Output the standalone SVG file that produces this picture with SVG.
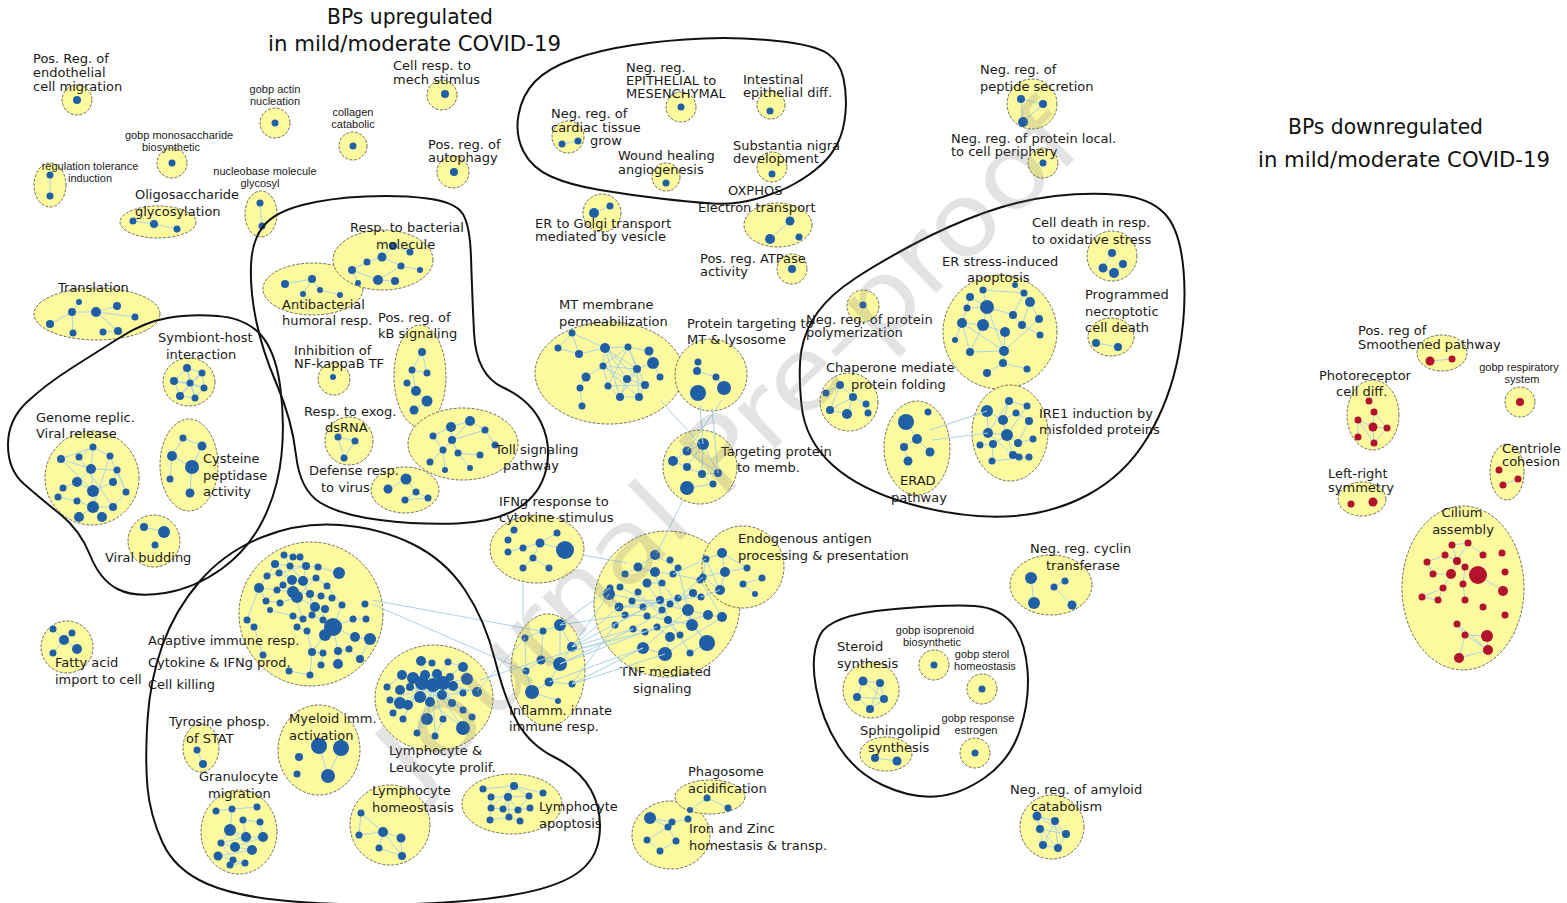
<svg xmlns="http://www.w3.org/2000/svg" width="1567" height="903" viewBox="0 0 1567 903">
<style>
.c{fill:#fcf99e;stroke:#4a4a3a;stroke-width:.8;stroke-dasharray:3 1.5}
.n{fill:#1f5fa6}
.rd{fill:#b3122c}
.e{fill:none;stroke:#a9d3e6;stroke-width:1}
.h{fill:none;stroke:#111;stroke-width:2}
.t{font-family:"DejaVu Sans",Verdana,sans-serif;font-size:13px;fill:#1a1a1a}
.s{font-family:"Liberation Sans",Arial,sans-serif;font-size:11px;fill:#1a1a1a;text-anchor:middle}
.ti{font-family:"DejaVu Sans",Verdana,sans-serif;font-size:20.5px;fill:#111}
.wm{font-family:"DejaVu Sans",sans-serif;font-size:100px;fill:#777;opacity:.2}
</style>
<rect width="1567" height="903" fill="#fff"/>
<g id="titles">
<text class="ti" x="410" y="24" text-anchor="middle" textLength="166" lengthAdjust="spacingAndGlyphs">BPs upregulated</text>
<text class="ti" x="268" y="51" textLength="293" lengthAdjust="spacingAndGlyphs">in mild/moderate COVID-19</text>
<text class="ti" x="1288" y="134" textLength="195" lengthAdjust="spacingAndGlyphs">BPs downregulated</text>
<text class="ti" x="1258" y="167" textLength="292" lengthAdjust="spacingAndGlyphs">in mild/moderate COVID-19</text>
</g>
<g id="n-endothelial"><circle class="c" cx="77" cy="100" r="15"/><circle class="n" cx="77" cy="100" r="4"/><text class="t" x="33" y="63">Pos. Reg. of</text><text class="t" x="33" y="77">endothelial</text><text class="t" x="33" y="91">cell migration</text></g>
<g id="n-actin"><circle class="c" cx="275" cy="123" r="15"/><circle class="n" cx="275" cy="123" r="3.5"/><text class="s" x="275" y="93">gobp actin</text><text class="s" x="275" y="105">nucleation</text></g>
<g id="n-collagen"><circle class="c" cx="353" cy="146" r="14"/><circle class="n" cx="353" cy="146" r="3.5"/><text class="s" x="353" y="116">collagen</text><text class="s" x="353" y="128">catabolic</text></g>
<g id="n-mech"><circle class="c" cx="442" cy="95" r="15"/><circle class="n" cx="445" cy="94" r="4"/><text class="t" x="393" y="70">Cell resp. to</text><text class="t" x="393" y="84">mech stimlus</text></g>
<g id="n-monosacch"><circle class="c" cx="172" cy="163" r="15"/><circle class="n" cx="172" cy="163" r="3.5"/><text class="s" x="179" y="139">gobp monosaccharide</text><text class="s" x="171" y="151">biosynthetic</text></g>
<g id="n-tolerance"><ellipse class="c" cx="50" cy="185" rx="16" ry="22"/><path class="e" d="M50,175L50,196"/><circle class="n" cx="50" cy="175" r="3.5"/><circle class="n" cx="50" cy="196" r="3.5"/><text class="s" x="90" y="170">regulation tolerance</text><text class="s" x="90" y="182">induction</text></g>
<g id="n-nucleobase"><ellipse class="c" cx="261" cy="214" rx="16" ry="23"/><path class="e" d="M260,203L262,226"/><circle class="n" cx="260" cy="203" r="3.5"/><circle class="n" cx="262" cy="226" r="3.5"/><text class="s" x="265" y="175">nucleobase molecule</text><text class="s" x="260" y="187">glycosyl</text></g>
<g id="n-oligo"><ellipse class="c" cx="158" cy="222" rx="38" ry="16"/><path class="e" d="M133,221L154,224L177,229"/><circle class="n" cx="133" cy="221" r="3.5"/><circle class="n" cx="154" cy="224" r="4"/><circle class="n" cx="177" cy="229" r="3.5"/><text class="t" x="135" y="199">Oligosaccharide</text><text class="t" x="135" y="216">glycosylation</text></g>
<g id="n-autophagy"><circle class="c" cx="453" cy="172" r="16"/><circle class="n" cx="454" cy="172" r="4"/><text class="t" x="428" y="149">Pos.  reg. of</text><text class="t" x="428" y="162">autophagy</text></g>
<g id="n-epith"><circle class="c" cx="681" cy="107" r="15"/><circle class="n" cx="681" cy="107" r="3.5"/><text class="t" x="626" y="72">Neg. reg.</text><text class="t" x="626" y="85">EPITHELIAL to</text><text class="t" x="626" y="98">MESENCHYMAL</text></g>
<g id="n-intestinal"><circle class="c" cx="771" cy="105" r="14"/><circle class="n" cx="770" cy="111" r="3.5"/><text class="t" x="743" y="84">Intestinal</text><text class="t" x="743" y="97">epithelial  diff.</text></g>
<g id="n-cardiac"><circle class="c" cx="568" cy="137" r="16"/><path class="e" d="M562,144L578,141"/><circle class="n" cx="562" cy="144" r="3.5"/><circle class="n" cx="578" cy="141" r="3.5"/><text class="t" x="551" y="118">Neg. reg. of</text><text class="t" x="551" y="132">cardiac tissue</text><text class="t" x="590" y="145">grow</text></g>
<g id="n-wound"><circle class="c" cx="666" cy="177" r="14"/><circle class="n" cx="666" cy="183" r="3.5"/><text class="t" x="618" y="160">Wound healing</text><text class="t" x="618" y="174">angiogenesis</text></g>
<g id="n-substantia"><circle class="c" cx="772" cy="167" r="15"/><circle class="n" cx="772" cy="174" r="3.5"/><text class="t" x="733" y="150">Substantia nigra</text><text class="t" x="733" y="163">development</text></g>
<g id="n-oxphos"><ellipse class="c" cx="778" cy="225" rx="34" ry="22"/><path class="e" d="M790,221L770,239"/><circle class="n" cx="790" cy="221" r="4.5"/><circle class="n" cx="770" cy="239" r="5"/><circle class="n" cx="799" cy="237" r="3.5"/><text class="t" x="728" y="195">OXPHOS</text><text class="t" x="698" y="212">Electron transport</text></g>
<g id="n-ergolgi"><circle class="c" cx="602" cy="213" r="19"/><path class="e" d="M594,213L610,206"/><circle class="n" cx="594" cy="213" r="5"/><circle class="n" cx="610" cy="206" r="3.5"/><text class="t" x="535" y="228">ER to Golgi transport</text><text class="t" x="535" y="241">mediated by vesicle</text></g>
<g id="n-atpase"><circle class="c" cx="792" cy="269" r="15"/><circle class="n" cx="792" cy="269" r="4"/><text class="t" x="700" y="263">Pos. reg. ATPase</text><text class="t" x="700" y="276">activity</text></g>
<g id="n-peptide"><circle class="c" cx="1032" cy="104" r="25"/><path class="e" d="M1021,99L1043,104L1023,122Z"/><circle class="n" cx="1021" cy="99" r="4"/><circle class="n" cx="1043" cy="104" r="4"/><circle class="n" cx="1023" cy="122" r="5"/><text class="t" x="980" y="74">Neg. reg. of</text><text class="t" x="980" y="91">peptide secretion</text></g>
<g id="n-protlocal"><circle class="c" cx="1043" cy="163" r="15"/><circle class="n" cx="1043" cy="163" r="3.5"/><text class="t" x="951" y="143">Neg. reg. of protein local.</text><text class="t" x="951" y="156">to cell periphery</text></g>
<g id="n-oxidative"><circle class="c" cx="1112" cy="256" r="25"/><path class="e" d="M1112,253L1103,268L1114,273L1123,264"/><circle class="n" cx="1112" cy="253" r="4"/><circle class="n" cx="1103" cy="268" r="4.5"/><circle class="n" cx="1123" cy="264" r="4"/><circle class="n" cx="1114" cy="273" r="5"/><text class="t" x="1032" y="227">Cell death in resp.</text><text class="t" x="1032" y="244">to oxidative stress</text></g>
<g id="n-erstress"><circle class="c" cx="1000" cy="332" r="57"/><path class="e" d="M970,297L987,307M983,290L987,307M987,307L967,308M987,307L983,325M962,323L983,325M962,323L970,352M983,325L1005,332M987,307L1013,315M1013,315L1024,293M1024,293L1030,302M1030,302L1039,319M1013,315L1022,325M1022,325L1040,335M1005,332L1004,351M1004,351L1003,363M1003,363L987,373M1003,363L1027,369M970,352L1004,351M983,290L1024,293M962,323L1004,351M987,307L1004,351M1030,302L1022,325M1039,319L1004,351M970,297L962,323M983,325L970,352M955,340L962,323M1015,285L1024,293"/><circle class="n" cx="970" cy="297" r="4"/><circle class="n" cx="983" cy="290" r="3.5"/><circle class="n" cx="987" cy="307" r="7"/><circle class="n" cx="967" cy="308" r="3.5"/><circle class="n" cx="962" cy="323" r="5"/><circle class="n" cx="983" cy="325" r="6"/><circle class="n" cx="970" cy="352" r="4"/><circle class="n" cx="1005" cy="332" r="5"/><circle class="n" cx="1013" cy="315" r="4"/><circle class="n" cx="1024" cy="293" r="3.5"/><circle class="n" cx="1030" cy="302" r="5"/><circle class="n" cx="1039" cy="319" r="4"/><circle class="n" cx="1022" cy="325" r="4"/><circle class="n" cx="1040" cy="335" r="3.5"/><circle class="n" cx="1004" cy="351" r="5"/><circle class="n" cx="1003" cy="363" r="4"/><circle class="n" cx="987" cy="373" r="4"/><circle class="n" cx="1027" cy="369" r="3.5"/><circle class="n" cx="955" cy="340" r="3"/><circle class="n" cx="1015" cy="285" r="3"/><text class="t" x="942" y="266">ER stress-induced</text><text class="t" x="967" y="282">apoptosis</text></g>
<g id="n-necroptotic"><ellipse class="c" cx="1111" cy="337" rx="23" ry="19"/><path class="e" d="M1096,343L1118,347"/><circle class="n" cx="1096" cy="343" r="4"/><circle class="n" cx="1118" cy="347" r="4"/><text class="t" x="1085" y="299">Programmed</text><text class="t" x="1085" y="316">necroptotic</text><text class="t" x="1085" y="332">cell death</text></g>
<g id="n-polymer"><circle class="c" cx="863" cy="306" r="16"/><circle class="n" cx="863" cy="305" r="3.5"/><text class="t" x="806" y="324">Neg. reg. of protein</text><text class="t" x="806" y="337">polymerization</text></g>
<g id="n-chaperone"><circle class="c" cx="849" cy="402" r="29"/><path class="e" d="M840,385L853,397M853,397L866,404M853,397L847,414M830,410L847,414M830,410L853,397M866,404L868,413M840,385L830,410M826,393L840,385"/><circle class="n" cx="840" cy="385" r="4"/><circle class="n" cx="826" cy="393" r="3.5"/><circle class="n" cx="853" cy="397" r="4"/><circle class="n" cx="866" cy="404" r="3.5"/><circle class="n" cx="830" cy="410" r="4"/><circle class="n" cx="847" cy="414" r="5"/><circle class="n" cx="868" cy="413" r="3.5"/><text class="t" x="826" y="372">Chaperone mediate</text><text class="t" x="851" y="389">protein folding</text></g>
<g id="n-erad"><ellipse class="c" cx="917" cy="448" rx="33" ry="47"/><path class="e" d="M906,422L917,439L930,452M917,439L904,447L908,461"/><circle class="n" cx="906" cy="422" r="8"/><circle class="n" cx="928" cy="412" r="3.5"/><circle class="n" cx="917" cy="439" r="5"/><circle class="n" cx="904" cy="447" r="4"/><circle class="n" cx="930" cy="452" r="4.5"/><circle class="n" cx="908" cy="461" r="4.5"/><text class="t" x="900" y="485">ERAD</text><text class="t" x="891" y="502">pathway</text></g>
<g id="n-ire1"><ellipse class="c" cx="1010" cy="433" rx="38" ry="48"/><path class="e" d="M1009,401L1027,406M987,411L1003,420M1003,420L1016,413M1016,413L1029,421M1009,401L1003,420M987,411L988,433M1003,420L1007,435M988,433L1007,435M1007,435L1018,443M1018,443L1033,439M993,444L1007,435M980,445L993,444M993,444L992,461M1013,455L1019,457M1019,457L1029,457M1007,435L1013,455M1029,421L1018,443M988,433L1013,455M1009,401L988,433M992,461L1029,457M1027,406L1007,435"/><circle class="n" cx="1009" cy="401" r="4"/><circle class="n" cx="1027" cy="406" r="3.5"/><circle class="n" cx="987" cy="411" r="6"/><circle class="n" cx="1003" cy="420" r="5"/><circle class="n" cx="1016" cy="413" r="3.5"/><circle class="n" cx="1029" cy="421" r="4"/><circle class="n" cx="988" cy="433" r="5"/><circle class="n" cx="1007" cy="435" r="6"/><circle class="n" cx="993" cy="444" r="4"/><circle class="n" cx="1018" cy="443" r="4"/><circle class="n" cx="1033" cy="439" r="3.5"/><circle class="n" cx="980" cy="445" r="3.5"/><circle class="n" cx="1013" cy="455" r="4"/><circle class="n" cx="992" cy="461" r="3.5"/><circle class="n" cx="1019" cy="457" r="3.5"/><circle class="n" cx="1029" cy="457" r="3.5"/><text class="t" x="1039" y="418">IRE1 induction by</text><text class="t" x="1039" y="434">misfolded proteins</text></g>
<g id="n-translation"><ellipse class="c" cx="97" cy="314" rx="63" ry="26"/><path class="e" d="M72,312L96,312L118,331M72,312L73,333M50,324L72,312M79,302L72,312M96,312L117,306M103,332L118,331M96,312L135,317"/><circle class="n" cx="79" cy="302" r="3"/><circle class="n" cx="72" cy="312" r="4"/><circle class="n" cx="96" cy="312" r="5"/><circle class="n" cx="117" cy="306" r="4"/><circle class="n" cx="135" cy="317" r="3.5"/><circle class="n" cx="50" cy="324" r="4"/><circle class="n" cx="73" cy="333" r="3.5"/><circle class="n" cx="103" cy="332" r="3.5"/><circle class="n" cx="118" cy="331" r="4"/><text class="t" x="58" y="292">Translation</text></g>
<g id="n-symbiont"><ellipse class="c" cx="189" cy="382" rx="26" ry="24"/><path class="e" d="M187,368L202,373L204,388L195,398L180,396L174,381L187,368M187,368L190,383L204,388M174,381L190,383L195,398M202,373L190,383L180,396M187,368L195,398M174,381L204,388M202,373L180,396"/><circle class="n" cx="187" cy="368" r="4"/><circle class="n" cx="202" cy="373" r="3.5"/><circle class="n" cx="174" cy="381" r="4"/><circle class="n" cx="190" cy="383" r="3.5"/><circle class="n" cx="204" cy="388" r="3.5"/><circle class="n" cx="180" cy="396" r="4"/><circle class="n" cx="195" cy="398" r="3.5"/><text class="t" x="158" y="342">Symbiont-host</text><text class="t" x="166" y="359">interaction</text></g>
<g id="n-genome"><circle class="c" cx="92" cy="478" r="47"/><path class="e" d="M61,459L93,447M79,457L93,447M93,447L110,456M93,447L91,469M61,459L91,469M91,469L117,470M91,469L77,482M91,469L93,491M77,482L93,491M93,491L113,482M113,482L117,470M93,491L93,507M63,488L77,482M58,497L77,501M77,501L93,507M93,507L113,507M93,507L79,517M93,507L102,517M113,507L126,492M117,470L126,492M110,456L126,492M79,457L113,507M61,459L93,491M110,456L93,507"/><circle class="n" cx="61" cy="459" r="4"/><circle class="n" cx="79" cy="457" r="3.5"/><circle class="n" cx="93" cy="447" r="3.5"/><circle class="n" cx="110" cy="456" r="3.5"/><circle class="n" cx="91" cy="469" r="5"/><circle class="n" cx="117" cy="470" r="3.5"/><circle class="n" cx="77" cy="482" r="5"/><circle class="n" cx="63" cy="488" r="3.5"/><circle class="n" cx="93" cy="491" r="6"/><circle class="n" cx="113" cy="482" r="4"/><circle class="n" cx="126" cy="492" r="3.5"/><circle class="n" cx="58" cy="497" r="3.5"/><circle class="n" cx="77" cy="501" r="3.5"/><circle class="n" cx="93" cy="507" r="6"/><circle class="n" cx="113" cy="507" r="4"/><circle class="n" cx="79" cy="517" r="5"/><circle class="n" cx="102" cy="517" r="5"/><text class="t" x="36" y="422">Genome replic.</text><text class="t" x="36" y="438">Viral release</text></g>
<g id="n-cysteine"><ellipse class="c" cx="189" cy="465" rx="29" ry="46"/><path class="e" d="M183,438L172,456L192,467L202,446M172,456L170,479M192,467L190,493M183,438L202,446"/><circle class="n" cx="183" cy="438" r="3.5"/><circle class="n" cx="202" cy="446" r="4.5"/><circle class="n" cx="172" cy="456" r="5"/><circle class="n" cx="192" cy="467" r="7"/><circle class="n" cx="170" cy="479" r="3.5"/><circle class="n" cx="190" cy="493" r="4.5"/><text class="t" x="203" y="463">Cysteine</text><text class="t" x="203" y="480">peptidase</text><text class="t" x="203" y="496">activity</text></g>
<g id="n-budding"><circle class="c" cx="154" cy="541" r="26"/><path class="e" d="M144,527L164,532"/><circle class="n" cx="144" cy="527" r="4"/><circle class="n" cx="164" cy="532" r="6"/><circle class="n" cx="155" cy="545" r="3.5"/><text class="t" x="105" y="562">Viral budding</text></g>
<g id="n-fatty"><circle class="c" cx="67" cy="647" r="26"/><path class="e" d="M53,629L64,640L72,633M64,640L77,649M64,640L53,653"/><circle class="n" cx="53" cy="629" r="3.5"/><circle class="n" cx="72" cy="633" r="3.5"/><circle class="n" cx="64" cy="640" r="5"/><circle class="n" cx="77" cy="649" r="5"/><circle class="n" cx="53" cy="653" r="3.5"/><text class="t" x="55" y="667">Fatty acid</text><text class="t" x="55" y="684">import to cell</text></g>
<g id="n-antibacterial"><ellipse class="c" cx="313" cy="289" rx="50" ry="26"/><path class="e" d="M285,284L312,279L303,294M312,279L320,290L340,295"/><circle class="n" cx="285" cy="284" r="4"/><circle class="n" cx="312" cy="279" r="4"/><circle class="n" cx="303" cy="294" r="3"/><circle class="n" cx="320" cy="290" r="3"/><circle class="n" cx="340" cy="295" r="3"/><text class="t" x="282" y="309">Antibacterial</text><text class="t" x="282" y="325">humoral resp.</text></g>
<g id="n-bacterial"><ellipse class="c" cx="383" cy="260" rx="50" ry="30"/><path class="e" d="M352,270L367,262L382,257L393,246L410,252M382,257L401,266L378,280L395,281M401,266L420,270M352,270L378,280M358,283L352,270"/><circle class="n" cx="352" cy="270" r="4"/><circle class="n" cx="367" cy="262" r="3.5"/><circle class="n" cx="382" cy="257" r="4.5"/><circle class="n" cx="393" cy="246" r="4"/><circle class="n" cx="410" cy="252" r="3.5"/><circle class="n" cx="401" cy="266" r="3.5"/><circle class="n" cx="378" cy="280" r="5"/><circle class="n" cx="420" cy="270" r="3"/><circle class="n" cx="358" cy="283" r="3"/><circle class="n" cx="395" cy="281" r="4"/><text class="t" x="350" y="232">Resp. to bacterial</text><text class="t" x="376" y="249">molecule</text></g>
<g id="n-kb"><ellipse class="c" cx="420" cy="376" rx="26" ry="51"/><path class="e" d="M422,352L412,370L427,373L422,352M412,370L416,391L427,401L414,410M407,383L416,391"/><circle class="n" cx="422" cy="352" r="4"/><circle class="n" cx="412" cy="370" r="3.5"/><circle class="n" cx="427" cy="373" r="3.5"/><circle class="n" cx="407" cy="383" r="3.5"/><circle class="n" cx="416" cy="391" r="5"/><circle class="n" cx="427" cy="401" r="5.5"/><circle class="n" cx="414" cy="410" r="4.5"/><text class="t" x="378" y="322">Pos. reg. of</text><text class="t" x="378" y="338">kB signaling</text></g>
<g id="n-nfkb"><circle class="c" cx="334" cy="379" r="16"/><circle class="n" cx="333" cy="377" r="3"/><text class="t" x="294" y="355">Inhibition of</text><text class="t" x="294" y="368">NF-kappaB TF</text></g>
<g id="n-dsrna"><circle class="c" cx="349" cy="441" r="24"/><path class="e" d="M338,437L355,441L344,458L338,437"/><circle class="n" cx="338" cy="437" r="3.5"/><circle class="n" cx="355" cy="441" r="3.5"/><circle class="n" cx="344" cy="458" r="3.5"/><text class="t" x="304" y="416">Resp. to exog.</text><text class="t" x="325" y="432">dsRNA</text></g>
<g id="n-toll"><ellipse class="c" cx="463" cy="444" rx="55" ry="36"/><path class="e" d="M451,427L470,421M451,427L433,436M451,427L452,440M452,440L443,450M452,440L458,453M433,436L443,450M443,450L430,462M470,421L485,430M485,430L495,445M458,453L480,455M452,440L485,430M470,421L452,440M458,453L470,468M443,450L445,470"/><circle class="n" cx="451" cy="427" r="5"/><circle class="n" cx="470" cy="421" r="5"/><circle class="n" cx="433" cy="436" r="3.5"/><circle class="n" cx="452" cy="440" r="4"/><circle class="n" cx="443" cy="450" r="3.5"/><circle class="n" cx="458" cy="453" r="3.5"/><circle class="n" cx="430" cy="462" r="3.5"/><circle class="n" cx="485" cy="430" r="3.5"/><circle class="n" cx="495" cy="445" r="3.5"/><circle class="n" cx="480" cy="455" r="3.5"/><circle class="n" cx="470" cy="468" r="3"/><circle class="n" cx="445" cy="470" r="3"/><text class="t" x="495" y="454">Toll signaling</text><text class="t" x="503" y="470">pathway</text></g>
<g id="n-defense"><ellipse class="c" cx="405" cy="490" rx="34" ry="23"/><path class="e" d="M406,479L388,489M406,479L416,492L428,498L405,500L416,492"/><circle class="n" cx="406" cy="479" r="5.5"/><circle class="n" cx="388" cy="489" r="4.5"/><circle class="n" cx="416" cy="492" r="3.5"/><circle class="n" cx="428" cy="498" r="3.5"/><circle class="n" cx="405" cy="500" r="3.5"/><text class="t" x="309" y="475">Defense resp.</text><text class="t" x="321" y="492">to virus</text></g>
<g id="n-mtmemb"><ellipse class="c" cx="609" cy="373" rx="74" ry="51"/><path class="e" d="M572,333L558,348M572,333L579,354M572,333L605,348M558,348L579,354M579,354L605,348M605,348L628,347M628,347L649,351M605,348L603,366M605,348L637,369M605,348L627,379M605,348L620,397M605,348L645,385M628,347L637,369M628,347L603,366M628,347L645,385M628,347L608,386M649,351L653,363M653,363L660,377M653,363L637,369M637,369L603,366M637,369L627,379M637,369L639,397M637,369L620,397M603,366L627,379M603,366L608,386M603,366L639,397M627,379L645,385M627,379L620,397M645,385L639,397M608,386L620,397M608,386L645,385M586,377L580,388M580,388L582,406M586,377L603,366M620,397L639,397"/><circle class="n" cx="572" cy="333" r="3.5"/><circle class="n" cx="558" cy="348" r="3.5"/><circle class="n" cx="579" cy="354" r="4"/><circle class="n" cx="605" cy="348" r="5"/><circle class="n" cx="628" cy="347" r="3.5"/><circle class="n" cx="649" cy="351" r="4.5"/><circle class="n" cx="653" cy="363" r="6"/><circle class="n" cx="660" cy="377" r="3.5"/><circle class="n" cx="637" cy="369" r="4"/><circle class="n" cx="603" cy="366" r="3.5"/><circle class="n" cx="627" cy="379" r="4"/><circle class="n" cx="645" cy="385" r="4"/><circle class="n" cx="586" cy="377" r="4.5"/><circle class="n" cx="580" cy="388" r="3.5"/><circle class="n" cx="608" cy="386" r="3.5"/><circle class="n" cx="620" cy="397" r="4"/><circle class="n" cx="639" cy="397" r="4"/><circle class="n" cx="582" cy="406" r="3.5"/><text class="t" x="559" y="309">MT membrane</text><text class="t" x="559" y="326">permeabilization</text></g>
<g id="n-prottarget"><circle class="c" cx="711" cy="375" r="36"/><path class="e" d="M698,362L697,371L716,377L724,388"/><circle class="n" cx="698" cy="362" r="3.5"/><circle class="n" cx="697" cy="371" r="4"/><circle class="n" cx="716" cy="377" r="3.5"/><circle class="n" cx="698" cy="393" r="8"/><circle class="n" cx="724" cy="388" r="7"/><text class="t" x="687" y="328">Protein targeting to</text><text class="t" x="687" y="344">MT &amp; lysosome</text></g>
<g id="n-targmemb"><circle class="c" cx="700" cy="467" r="37"/><path class="e" d="M703,444L687,451M703,444L687,467M703,444L702,474M703,444L718,473M687,451L673,461M687,467L702,474M702,474L718,473M702,474L713,484M687,451L718,473M673,461L687,467M713,484L687,488"/><circle class="n" cx="703" cy="444" r="6"/><circle class="n" cx="687" cy="451" r="4.5"/><circle class="n" cx="673" cy="461" r="5"/><circle class="n" cx="687" cy="467" r="4"/><circle class="n" cx="702" cy="474" r="4"/><circle class="n" cx="718" cy="473" r="4"/><circle class="n" cx="713" cy="484" r="3.5"/><circle class="n" cx="687" cy="488" r="7"/><text class="t" x="721" y="456">Targeting protein</text><text class="t" x="737" y="472">to memb.</text></g>
<g id="n-ifng"><ellipse class="c" cx="537" cy="549" rx="47" ry="34"/><path class="e" d="M514,530L508,540M557,533L540,543L523,548L508,552M540,543L533,558L523,568M540,543L565,550M533,558L549,568"/><circle class="n" cx="514" cy="530" r="3.5"/><circle class="n" cx="508" cy="540" r="3.5"/><circle class="n" cx="557" cy="533" r="3.5"/><circle class="n" cx="540" cy="543" r="4.5"/><circle class="n" cx="523" cy="548" r="3.5"/><circle class="n" cx="508" cy="552" r="3.5"/><circle class="n" cx="565" cy="550" r="9"/><circle class="n" cx="533" cy="558" r="3.5"/><circle class="n" cx="523" cy="568" r="3.5"/><circle class="n" cx="549" cy="568" r="3.5"/><text class="t" x="499" y="506">IFNg response to</text><text class="t" x="499" y="522">cytokine stimulus</text></g>
<g id="n-tnf"><circle class="c" cx="667" cy="604" r="73"/><path class="e" d="M655,555L638,567M655,555L678,568M638,567L625,574M638,567L655,572M655,572L673,574M647,583L662,583M610,588L609,594M609,594L619,607M619,607L643,607M632,601L660,600M660,600L678,598M678,598L693,593M693,593L701,597M688,610L708,615M708,615L722,617M688,610L692,625M692,625L707,643M707,643L690,653M668,620L692,625M657,627L670,637M670,637L665,654M643,648L665,654M633,629L645,632M625,615L647,616M647,616L668,620M620,587L662,610M609,594L688,610M619,607L701,597M633,629L693,593M645,632L708,615M643,648L688,610M665,654L722,617M647,583L690,653M662,583L707,643M673,574L700,580M700,580L722,617M678,568L692,625M655,572L668,620M638,592L680,635M615,625L660,600"/><circle class="n" cx="655" cy="555" r="5"/><circle class="n" cx="638" cy="567" r="4.5"/><circle class="n" cx="670" cy="560" r="3.5"/><circle class="n" cx="678" cy="568" r="3.5"/><circle class="n" cx="625" cy="574" r="3.5"/><circle class="n" cx="655" cy="572" r="5"/><circle class="n" cx="673" cy="574" r="3.5"/><circle class="n" cx="647" cy="583" r="4.5"/><circle class="n" cx="610" cy="588" r="3.5"/><circle class="n" cx="620" cy="587" r="3.5"/><circle class="n" cx="638" cy="592" r="3.5"/><circle class="n" cx="662" cy="583" r="3.5"/><circle class="n" cx="609" cy="594" r="6"/><circle class="n" cx="619" cy="607" r="4.5"/><circle class="n" cx="632" cy="601" r="3.5"/><circle class="n" cx="643" cy="607" r="3.5"/><circle class="n" cx="660" cy="600" r="4"/><circle class="n" cx="670" cy="604" r="3.5"/><circle class="n" cx="678" cy="598" r="3.5"/><circle class="n" cx="693" cy="593" r="4"/><circle class="n" cx="701" cy="597" r="3.5"/><circle class="n" cx="688" cy="610" r="6"/><circle class="n" cx="662" cy="610" r="3.5"/><circle class="n" cx="625" cy="615" r="3.5"/><circle class="n" cx="647" cy="616" r="3.5"/><circle class="n" cx="708" cy="615" r="5"/><circle class="n" cx="722" cy="617" r="5"/><circle class="n" cx="668" cy="620" r="4"/><circle class="n" cx="657" cy="627" r="3.5"/><circle class="n" cx="692" cy="625" r="6"/><circle class="n" cx="707" cy="643" r="8"/><circle class="n" cx="633" cy="629" r="3.5"/><circle class="n" cx="645" cy="632" r="3.5"/><circle class="n" cx="670" cy="637" r="5"/><circle class="n" cx="680" cy="635" r="3.5"/><circle class="n" cx="643" cy="648" r="6"/><circle class="n" cx="665" cy="654" r="7"/><circle class="n" cx="690" cy="653" r="3.5"/><circle class="n" cx="615" cy="625" r="3.5"/><circle class="n" cx="700" cy="580" r="3.5"/><text class="t" x="620" y="676">TNF mediated</text><text class="t" x="633" y="693">signaling</text></g>
<g id="n-endogenous"><circle class="c" cx="743" cy="567" r="41"/><path class="e" d="M722,553L706,559M722,553L725,572M706,559L703,577M703,577L725,572M725,572L747,568M725,572L720,590M720,590L703,577M743,584L762,578M722,553L747,568M706,559L720,590M743,584L755,594"/><circle class="n" cx="722" cy="553" r="5"/><circle class="n" cx="706" cy="559" r="3.5"/><circle class="n" cx="725" cy="572" r="5"/><circle class="n" cx="747" cy="568" r="3.5"/><circle class="n" cx="703" cy="577" r="3.5"/><circle class="n" cx="720" cy="590" r="5"/><circle class="n" cx="743" cy="584" r="3.5"/><circle class="n" cx="762" cy="578" r="3.5"/><circle class="n" cx="755" cy="594" r="3"/><text class="t" x="738" y="543">Endogenous antigen</text><text class="t" x="738" y="560">processing &amp; presentation</text></g>
<g id="n-inflamm"><ellipse class="c" cx="548" cy="670" rx="37" ry="56"/><path class="e" d="M560,625L543,631M543,631L525,638M560,625L572,647M543,631L541,660M541,660L560,664M572,647L560,664M525,638L526,671M541,660L526,671M560,664L549,682M549,682L572,684M526,671L532,692M549,682L532,692M560,625L560,664M532,692L558,701"/><circle class="n" cx="560" cy="625" r="6"/><circle class="n" cx="543" cy="631" r="3.5"/><circle class="n" cx="525" cy="638" r="3.5"/><circle class="n" cx="572" cy="647" r="5"/><circle class="n" cx="541" cy="660" r="4.5"/><circle class="n" cx="560" cy="664" r="7"/><circle class="n" cx="526" cy="671" r="3.5"/><circle class="n" cx="549" cy="682" r="4.5"/><circle class="n" cx="572" cy="684" r="3.5"/><circle class="n" cx="532" cy="692" r="7"/><circle class="n" cx="558" cy="701" r="3"/><text class="t" x="509" y="715">Inflamm. innate</text><text class="t" x="509" y="731">immune resp.</text></g>
<g id="n-adaptive"><circle class="c" cx="311" cy="614" r="72"/><path class="e" d="M284,555L300,557M275,564L290,566M290,566L306,566M306,566L318,567M318,567L339,573M275,564L292,580M290,566L303,581M267,576L279,573M279,573L292,580M292,580L303,581M303,581L316,578M316,578L327,586M259,588L277,590M277,590L293,592M293,592L310,594M310,594L321,596M321,596L332,598M266,601L280,603M280,603L297,597M297,597L315,607M315,607L325,609M293,592L297,597M283,585L293,592M259,588L266,601M267,576L259,588M292,580L297,597M303,581L315,607M306,566L303,581M327,586L342,605M333,627L325,635M333,627L355,637M355,637L370,639M333,627L353,619M353,619L366,619M333,627L338,651M338,651L349,649M349,649L360,659M338,651L338,664M325,635L312,652M312,652L323,653M323,653L321,665M312,652L310,675M289,671L310,675M293,616L303,619M303,619L312,615M312,615L323,620M323,620L333,627M297,627L307,631M307,631L312,652M247,620L254,627M254,627L263,655M247,620L259,588M315,607L333,627M342,605L333,627M370,639L360,659M325,609L323,620M293,592L303,619M310,594L312,615M275,564L267,576M300,557L306,566M284,555L290,566M297,597L280,603M270,610L293,616M279,573L306,566M316,578L297,597M266,601L277,590"/><circle class="n" cx="284" cy="555" r="3.5"/><circle class="n" cx="293" cy="557" r="3.5"/><circle class="n" cx="300" cy="557" r="3.5"/><circle class="n" cx="275" cy="564" r="4"/><circle class="n" cx="290" cy="566" r="3.5"/><circle class="n" cx="306" cy="566" r="4"/><circle class="n" cx="318" cy="567" r="3.5"/><circle class="n" cx="339" cy="573" r="6"/><circle class="n" cx="267" cy="576" r="3.5"/><circle class="n" cx="279" cy="573" r="3.5"/><circle class="n" cx="292" cy="580" r="5"/><circle class="n" cx="303" cy="581" r="5"/><circle class="n" cx="316" cy="578" r="3.5"/><circle class="n" cx="327" cy="586" r="3.5"/><circle class="n" cx="259" cy="588" r="5"/><circle class="n" cx="277" cy="590" r="3.5"/><circle class="n" cx="293" cy="592" r="6"/><circle class="n" cx="310" cy="594" r="4"/><circle class="n" cx="321" cy="596" r="3.5"/><circle class="n" cx="332" cy="598" r="3.5"/><circle class="n" cx="266" cy="601" r="3.5"/><circle class="n" cx="280" cy="603" r="3.5"/><circle class="n" cx="297" cy="597" r="6"/><circle class="n" cx="315" cy="607" r="5"/><circle class="n" cx="325" cy="609" r="4"/><circle class="n" cx="342" cy="605" r="3.5"/><circle class="n" cx="365" cy="604" r="3.5"/><circle class="n" cx="247" cy="620" r="3.5"/><circle class="n" cx="254" cy="627" r="3.5"/><circle class="n" cx="293" cy="616" r="3.5"/><circle class="n" cx="303" cy="619" r="3.5"/><circle class="n" cx="312" cy="615" r="3.5"/><circle class="n" cx="323" cy="620" r="3.5"/><circle class="n" cx="333" cy="627" r="9"/><circle class="n" cx="325" cy="635" r="6"/><circle class="n" cx="355" cy="637" r="5"/><circle class="n" cx="370" cy="639" r="6"/><circle class="n" cx="353" cy="619" r="3.5"/><circle class="n" cx="366" cy="619" r="3.5"/><circle class="n" cx="297" cy="627" r="3.5"/><circle class="n" cx="307" cy="631" r="3.5"/><circle class="n" cx="312" cy="652" r="4"/><circle class="n" cx="323" cy="653" r="3.5"/><circle class="n" cx="338" cy="651" r="4"/><circle class="n" cx="349" cy="649" r="3.5"/><circle class="n" cx="360" cy="659" r="4"/><circle class="n" cx="321" cy="665" r="3.5"/><circle class="n" cx="338" cy="664" r="5"/><circle class="n" cx="289" cy="671" r="3.5"/><circle class="n" cx="310" cy="675" r="3.5"/><circle class="n" cx="263" cy="655" r="3.5"/><circle class="n" cx="283" cy="585" r="3.5"/><circle class="n" cx="270" cy="610" r="3"/><text class="t" x="148" y="645">Adaptive immune resp.</text><text class="t" x="148" y="667">Cytokine &amp; IFNg prod.</text><text class="t" x="148" y="689">Cell killing</text></g>
<g id="n-lymprolif"><ellipse class="c" cx="434" cy="698" rx="59" ry="53"/><path class="e" d="M433,685L421,661M433,685L448,662M433,685L463,667M433,685L402,675M433,685L467,679M433,685L400,690M433,685L463,693M433,685L477,692M433,685L390,700M433,685L400,703M433,685L427,719M433,685L443,719M433,685L463,728M433,685L417,733M433,685L435,736M433,685L393,713M433,685L472,717M422,683L403,719M422,683L463,710M443,683L408,705M443,683L452,703M413,678L437,674M425,675L450,677M410,687L442,695M420,697L463,693M430,702L463,728M402,675L387,687M421,661L432,663M448,662L463,667M427,719L417,733M443,719L435,736M453,686L477,692"/><circle class="n" cx="421" cy="661" r="5"/><circle class="n" cx="432" cy="663" r="3.5"/><circle class="n" cx="448" cy="662" r="3.5"/><circle class="n" cx="463" cy="667" r="5"/><circle class="n" cx="402" cy="675" r="5"/><circle class="n" cx="413" cy="678" r="6"/><circle class="n" cx="425" cy="675" r="5"/><circle class="n" cx="437" cy="674" r="5"/><circle class="n" cx="450" cy="677" r="4"/><circle class="n" cx="467" cy="679" r="6"/><circle class="n" cx="400" cy="690" r="5"/><circle class="n" cx="410" cy="687" r="4"/><circle class="n" cx="422" cy="683" r="7"/><circle class="n" cx="433" cy="685" r="7"/><circle class="n" cx="443" cy="683" r="7"/><circle class="n" cx="453" cy="686" r="5"/><circle class="n" cx="463" cy="693" r="3.5"/><circle class="n" cx="477" cy="692" r="5"/><circle class="n" cx="387" cy="687" r="3.5"/><circle class="n" cx="390" cy="700" r="3.5"/><circle class="n" cx="400" cy="703" r="6"/><circle class="n" cx="408" cy="705" r="5"/><circle class="n" cx="420" cy="697" r="6"/><circle class="n" cx="430" cy="702" r="5"/><circle class="n" cx="442" cy="695" r="5"/><circle class="n" cx="452" cy="703" r="4"/><circle class="n" cx="463" cy="710" r="3.5"/><circle class="n" cx="393" cy="713" r="3.5"/><circle class="n" cx="403" cy="719" r="3.5"/><circle class="n" cx="427" cy="719" r="6"/><circle class="n" cx="443" cy="719" r="3.5"/><circle class="n" cx="463" cy="728" r="7"/><circle class="n" cx="417" cy="733" r="3.5"/><circle class="n" cx="435" cy="736" r="3.5"/><circle class="n" cx="472" cy="717" r="3.5"/><text class="t" x="389" y="755">Lymphocyte &amp;</text><text class="t" x="389" y="772">Leukocyte prolif.</text></g>
<g id="n-tyrosine"><ellipse class="c" cx="201" cy="748" rx="18" ry="24"/><path class="e" d="M197,750L203,764"/><circle class="n" cx="197" cy="750" r="3.5"/><circle class="n" cx="203" cy="764" r="4"/><text class="t" x="169" y="726">Tyrosine phosp.</text><text class="t" x="186" y="743">of STAT</text></g>
<g id="n-myeloid"><ellipse class="c" cx="319" cy="750" rx="41" ry="45"/><path class="e" d="M319,746L328,776L341,748"/><circle class="n" cx="319" cy="746" r="8"/><circle class="n" cx="341" cy="748" r="8"/><circle class="n" cx="328" cy="776" r="7"/><circle class="n" cx="299" cy="757" r="4"/><circle class="n" cx="297" cy="774" r="3.5"/><text class="t" x="289" y="723">Myeloid imm.</text><text class="t" x="289" y="740">activation</text></g>
<g id="n-granulocyte"><ellipse class="c" cx="239" cy="832" rx="38" ry="42"/><path class="e" d="M216,811L232,809M232,809L257,807M243,820L260,822M230,830L246,837M246,837L263,837M230,830L221,843M221,843L235,847M235,847L252,850M218,856L233,860M233,860L245,863M230,865L245,863M232,809L230,830M243,820L246,837M221,843L246,837M235,847L263,837M218,856L252,850M230,830L252,850M233,860L221,843M260,822L263,837"/><circle class="n" cx="216" cy="811" r="3.5"/><circle class="n" cx="232" cy="809" r="3.5"/><circle class="n" cx="257" cy="807" r="3.5"/><circle class="n" cx="243" cy="820" r="3.5"/><circle class="n" cx="260" cy="822" r="3.5"/><circle class="n" cx="230" cy="830" r="6"/><circle class="n" cx="246" cy="837" r="5"/><circle class="n" cx="263" cy="837" r="5"/><circle class="n" cx="221" cy="843" r="3.5"/><circle class="n" cx="235" cy="847" r="5"/><circle class="n" cx="252" cy="850" r="5"/><circle class="n" cx="218" cy="856" r="4.5"/><circle class="n" cx="233" cy="860" r="3.5"/><circle class="n" cx="245" cy="863" r="3.5"/><circle class="n" cx="230" cy="865" r="3.5"/><text class="t" x="199" y="781">Granulocyte</text><text class="t" x="208" y="798">migration</text></g>
<g id="n-lymhomeo"><circle class="c" cx="390" cy="825" r="40"/><path class="e" d="M361,813L383,832L401,838L402,856L379,848L383,832L359,835L361,813M383,832L402,856"/><circle class="n" cx="361" cy="813" r="3.5"/><circle class="n" cx="383" cy="832" r="5"/><circle class="n" cx="401" cy="838" r="4.5"/><circle class="n" cx="359" cy="835" r="3.5"/><circle class="n" cx="379" cy="848" r="3.5"/><circle class="n" cx="402" cy="856" r="4"/><text class="t" x="372" y="795">Lymphocyte</text><text class="t" x="372" y="812">homeostasis</text></g>
<g id="n-lymapopt"><ellipse class="c" cx="512" cy="804" rx="50" ry="30"/><path class="e" d="M483,789L514,786M514,786L543,793M491,797L508,797M508,797L529,796M514,786L508,797M514,786L529,796M491,808L503,809M503,809L518,810M518,810L530,808M490,820L509,817M509,817L520,821M508,797L503,809M508,797L518,810M508,797L509,817M514,786L491,808M529,796L518,810M491,797L490,820"/><circle class="n" cx="483" cy="789" r="3.5"/><circle class="n" cx="514" cy="786" r="4"/><circle class="n" cx="543" cy="793" r="3.5"/><circle class="n" cx="491" cy="797" r="3.5"/><circle class="n" cx="508" cy="797" r="4"/><circle class="n" cx="529" cy="796" r="3.5"/><circle class="n" cx="491" cy="808" r="3.5"/><circle class="n" cx="503" cy="809" r="3.5"/><circle class="n" cx="518" cy="810" r="3.5"/><circle class="n" cx="530" cy="808" r="3.5"/><circle class="n" cx="490" cy="820" r="3.5"/><circle class="n" cx="509" cy="817" r="3.5"/><circle class="n" cx="520" cy="821" r="3.5"/><text class="t" x="539" y="811">Lymphocyte</text><text class="t" x="539" y="828">apoptosis</text></g>
<g id="n-iron"><ellipse class="c" cx="671" cy="835" rx="39" ry="34"/><path class="e" d="M650,818L672,822L688,819M672,822L668,827L647,840M668,827L676,841L660,851L647,840M650,818L668,827"/><circle class="n" cx="650" cy="818" r="6"/><circle class="n" cx="672" cy="822" r="3.5"/><circle class="n" cx="668" cy="827" r="3.5"/><circle class="n" cx="688" cy="819" r="3.5"/><circle class="n" cx="647" cy="840" r="3.5"/><circle class="n" cx="676" cy="841" r="3.5"/><circle class="n" cx="660" cy="851" r="3.5"/><text class="t" x="689" y="833">Iron and Zinc</text><text class="t" x="689" y="850">homestasis &amp; transp.</text></g>
<g id="n-phagosome"><ellipse class="c" cx="710" cy="797" rx="35" ry="17"/><path class="e" d="M707,798L728,808M690,810L707,798"/><circle class="n" cx="707" cy="798" r="3.5"/><circle class="n" cx="728" cy="808" r="3.5"/><circle class="n" cx="690" cy="810" r="3"/><text class="t" x="688" y="776">Phagosome</text><text class="t" x="688" y="793">acidification</text></g>
<g id="n-cyclin"><ellipse class="c" cx="1051" cy="585" rx="41" ry="30"/><path class="e" d="M1031,578L1034,603M1054,587L1072,605M1054,587L1065,581"/><circle class="n" cx="1031" cy="578" r="6"/><circle class="n" cx="1065" cy="581" r="3.5"/><circle class="n" cx="1054" cy="587" r="3.5"/><circle class="n" cx="1034" cy="603" r="6"/><circle class="n" cx="1072" cy="605" r="4.5"/><text class="t" x="1030" y="553">Neg. reg. cyclin</text><text class="t" x="1046" y="570">transferase</text></g>
<g id="n-steroid"><circle class="c" cx="871" cy="690" r="28"/><path class="e" d="M863,681L880,683L884,699L870,709L857,697L863,681M863,681L884,699M857,697L884,699M880,683L870,709"/><circle class="n" cx="863" cy="681" r="4.5"/><circle class="n" cx="880" cy="683" r="4"/><circle class="n" cx="857" cy="697" r="4"/><circle class="n" cx="884" cy="699" r="4"/><circle class="n" cx="870" cy="709" r="4"/><text class="t" x="837" y="651">Steroid</text><text class="t" x="837" y="668">synthesis</text></g>
<g id="n-isoprenoid"><circle class="c" cx="934" cy="665" r="15"/><circle class="n" cx="934" cy="665" r="3.5"/><text class="s" x="935" y="634">gobp isoprenoid</text><text class="s" x="932" y="646">biosynthetic</text></g>
<g id="n-sterol"><circle class="c" cx="982" cy="689" r="15"/><circle class="n" cx="982" cy="689" r="3.5"/><text class="s" x="982" y="658">gobp sterol</text><text class="s" x="985" y="670">homeostasis</text></g>
<g id="n-sphingo"><ellipse class="c" cx="886" cy="754" rx="26" ry="17"/><path class="e" d="M875,758L897,761"/><circle class="n" cx="875" cy="758" r="4"/><circle class="n" cx="897" cy="761" r="4.5"/><text class="t" x="860" y="735">Sphingolipid</text><text class="t" x="868" y="752">synthesis</text></g>
<g id="n-estrogen"><circle class="c" cx="975" cy="753" r="15"/><circle class="n" cx="975" cy="753" r="3.5"/><text class="s" x="978" y="722">gobp response</text><text class="s" x="976" y="734">estrogen</text></g>
<g id="n-amyloid"><circle class="c" cx="1052" cy="827" r="32"/><path class="e" d="M1037,816L1055,821L1066,834L1058,848L1043,845L1040,829L1037,816M1037,816L1066,834M1055,821L1043,845M1040,829L1058,848M1040,829L1066,834M1055,821L1058,848"/><circle class="n" cx="1037" cy="816" r="4.5"/><circle class="n" cx="1055" cy="821" r="4"/><circle class="n" cx="1040" cy="829" r="4"/><circle class="n" cx="1066" cy="834" r="4"/><circle class="n" cx="1043" cy="845" r="4"/><circle class="n" cx="1058" cy="848" r="4"/><text class="t" x="1010" y="794">Neg. reg. of amyloid</text><text class="t" x="1031" y="811">catabolism</text></g>
<g id="n-smoothened"><ellipse class="c" cx="1442" cy="353" rx="25" ry="18"/><path class="e" d="M1430,361L1452,359"/><circle class="rd" cx="1430" cy="361" r="4.5"/><circle class="rd" cx="1452" cy="359" r="3.5"/><text class="t" x="1358" y="335">Pos. reg of</text><text class="t" x="1358" y="349">Smoothened pathway</text></g>
<g id="n-photoreceptor"><ellipse class="c" cx="1373" cy="415" rx="26" ry="35"/><path class="e" d="M1358,420L1373,427L1387,428M1374,412L1387,428M1374,412L1373,427M1358,420L1358,437M1358,420L1374,443M1373,427L1374,443M1387,428L1374,443"/><circle class="rd" cx="1369" cy="401" r="3.5"/><circle class="rd" cx="1374" cy="412" r="3.5"/><circle class="rd" cx="1358" cy="420" r="3.5"/><circle class="rd" cx="1373" cy="427" r="4.5"/><circle class="rd" cx="1387" cy="428" r="3.5"/><circle class="rd" cx="1358" cy="437" r="3.5"/><circle class="rd" cx="1374" cy="443" r="3.5"/><text class="t" x="1319" y="380">Photoreceptor</text><text class="t" x="1336" y="396">cell diff.</text></g>
<g id="n-respiratory"><circle class="c" cx="1520" cy="402" r="15"/><circle class="rd" cx="1520" cy="402" r="4"/><text class="s" x="1519" y="371">gobp respiratory</text><text class="s" x="1522" y="383">system</text></g>
<g id="n-centriole"><ellipse class="c" cx="1507" cy="472" rx="17" ry="28"/><path class="e" d="M1518,479L1503,485"/><circle class="rd" cx="1499" cy="470" r="3.5"/><circle class="rd" cx="1518" cy="479" r="3.5"/><circle class="rd" cx="1503" cy="485" r="3.5"/><text class="t" x="1502" y="453">Centriole</text><text class="t" x="1502" y="466">cohesion</text></g>
<g id="n-leftright"><ellipse class="c" cx="1362" cy="499" rx="24" ry="17"/><circle class="rd" cx="1351" cy="504" r="3.5"/><circle class="rd" cx="1373" cy="502" r="4.5"/><text class="t" x="1328" y="478">Left-right</text><text class="t" x="1328" y="492">symmetry</text></g>
<g id="n-cilium"><ellipse class="c" cx="1463" cy="588" rx="61" ry="82"/><path class="e" d="M1452,545L1468,543M1468,543L1483,555M1452,545L1457,561M1468,543L1457,561M1445,555L1457,561M1427,562L1445,555M1427,562L1433,574M1433,574L1451,574M1451,574L1457,561M1457,561L1465,567M1465,567L1478,575M1478,575L1503,591M1451,574L1443,588M1443,588L1422,597M1422,597L1438,600M1443,588L1438,600M1465,567L1463,584M1463,584L1465,600M1457,624L1465,635M1465,635L1487,636M1487,636L1488,650M1465,635L1459,658M1459,658L1488,650M1457,624L1488,650M1465,635L1488,650"/><circle class="rd" cx="1452" cy="545" r="3.5"/><circle class="rd" cx="1468" cy="543" r="3.5"/><circle class="rd" cx="1483" cy="555" r="3.5"/><circle class="rd" cx="1502" cy="553" r="3.5"/><circle class="rd" cx="1445" cy="555" r="3.5"/><circle class="rd" cx="1427" cy="562" r="3.5"/><circle class="rd" cx="1457" cy="561" r="4"/><circle class="rd" cx="1465" cy="567" r="3.5"/><circle class="rd" cx="1433" cy="574" r="3.5"/><circle class="rd" cx="1451" cy="574" r="5"/><circle class="rd" cx="1478" cy="575" r="9"/><circle class="rd" cx="1505" cy="572" r="3.5"/><circle class="rd" cx="1463" cy="584" r="3.5"/><circle class="rd" cx="1443" cy="588" r="3.5"/><circle class="rd" cx="1422" cy="597" r="3.5"/><circle class="rd" cx="1438" cy="600" r="3.5"/><circle class="rd" cx="1465" cy="600" r="3.5"/><circle class="rd" cx="1483" cy="607" r="3.5"/><circle class="rd" cx="1503" cy="591" r="5"/><circle class="rd" cx="1505" cy="615" r="3.5"/><circle class="rd" cx="1457" cy="624" r="3.5"/><circle class="rd" cx="1465" cy="635" r="3.5"/><circle class="rd" cx="1487" cy="636" r="6"/><circle class="rd" cx="1488" cy="650" r="5"/><circle class="rd" cx="1459" cy="658" r="5"/><text class="t" x="1462" y="517" text-anchor="middle">Cilium</text><text class="t" x="1463" y="534" text-anchor="middle">assembly</text></g>
<g id="connectors" class="e">
<path d="M660,400L700,444M700,405L703,444M712,408L718,473M722,400L687,451M683,500L657,553M583,555L627,563M523,583L523,620M372,600L540,631M372,604L526,671M477,691L525,638M480,680L541,660M572,647L609,594M572,647L619,607M560,625L610,588M572,647L633,629M575,650L645,632M572,684L643,648M560,664L633,629M572,684L615,625M560,664L657,627M549,682L643,648M572,647L660,600M560,625L625,615M572,684L665,654M541,660L610,640M703,577L678,598M706,559L673,574M720,590L701,597M930,430L987,411M932,440L988,433"/>
</g>
<g id="hulls">
<path class="h" d="M523.5,151.5Q515,135 518.5,115Q522,95 535,81.5Q548,68 574,59Q600,50 633.5,45Q667,40 703.5,38.5Q740,37 777.5,41Q815,45 827.5,53.5Q840,62 843.5,78.5Q847,95 845.5,112.5Q844,130 838,142.5Q832,155 821,165Q810,175 795,183.5Q780,192 757.5,198.5Q735,205 712.5,203.5Q690,202 660,198.5Q630,195 600,190Q570,185 551,176.5Q532,168 523.5,151.5Z"/>
<path class="h" d="M251,265Q252,240 263.5,226Q275,212 302.5,205Q330,198 365,196.5Q400,195 427.5,198.5Q455,202 462.5,213.5Q470,225 471,257.5Q472,290 474,332.5Q476,375 503,387.5Q530,400 541,422.5Q552,445 546,470Q540,495 517.5,508.5Q495,522 457.5,523.5Q420,525 380,520Q340,515 320,502.5Q300,490 296,455Q292,420 277,385Q262,350 256,320Q250,290 251,265Z"/>
<path class="h" d="M167.5,318Q190,314 217.5,316Q245,318 260,334Q275,350 280,385Q285,420 281.5,455Q278,490 263,520Q248,550 221.5,569Q195,588 165,593Q135,598 117.5,589Q100,580 90,555Q80,530 60,514Q40,498 24,484Q8,470 8,445Q8,420 26.5,402.5Q45,385 72.5,367.5Q100,350 122.5,336Q145,322 167.5,318Z"/>
<path class="h" d="M147.5,787.5Q145,760 147.5,720Q150,680 162.5,645Q175,610 200,581Q225,552 262.5,537Q300,522 340,525Q380,528 412.5,544Q445,560 465,590Q485,620 495,660Q505,700 517.5,722.5Q530,745 555,757.5Q580,770 591,790Q602,810 599.5,835Q597,860 576,874Q555,888 512.5,895Q470,902 415,904Q360,906 300,902Q240,898 207.5,884Q175,870 162.5,842.5Q150,815 147.5,787.5Z"/>
<path class="h" d="M801.5,350Q798,370 801.5,405Q805,440 832.5,465Q860,490 910,504Q960,518 1005,516.5Q1050,515 1087.5,495Q1125,475 1147.5,437.5Q1170,400 1178.5,355Q1187,310 1183.5,270Q1180,230 1165,214Q1150,198 1120,195Q1090,192 1055,196Q1020,200 985,212.5Q950,225 915,243.5Q880,262 855,278.5Q830,295 817.5,312.5Q805,330 801.5,350Z"/>
<path class="h" d="M820,635Q830,615 890,609.5Q950,604 975,606Q1000,608 1012.5,624Q1025,640 1027.5,670Q1030,700 1020,730Q1010,760 985,777.5Q960,795 935,796.5Q910,798 882.5,785Q855,772 838.5,746Q822,720 816,687.5Q810,655 820,635Z"/>
</g>
<text class="wm" x="727" y="481" text-anchor="middle" textLength="930" lengthAdjust="spacingAndGlyphs" transform="rotate(-44 727 445)">Journal Pre-proof</text>
</svg>
